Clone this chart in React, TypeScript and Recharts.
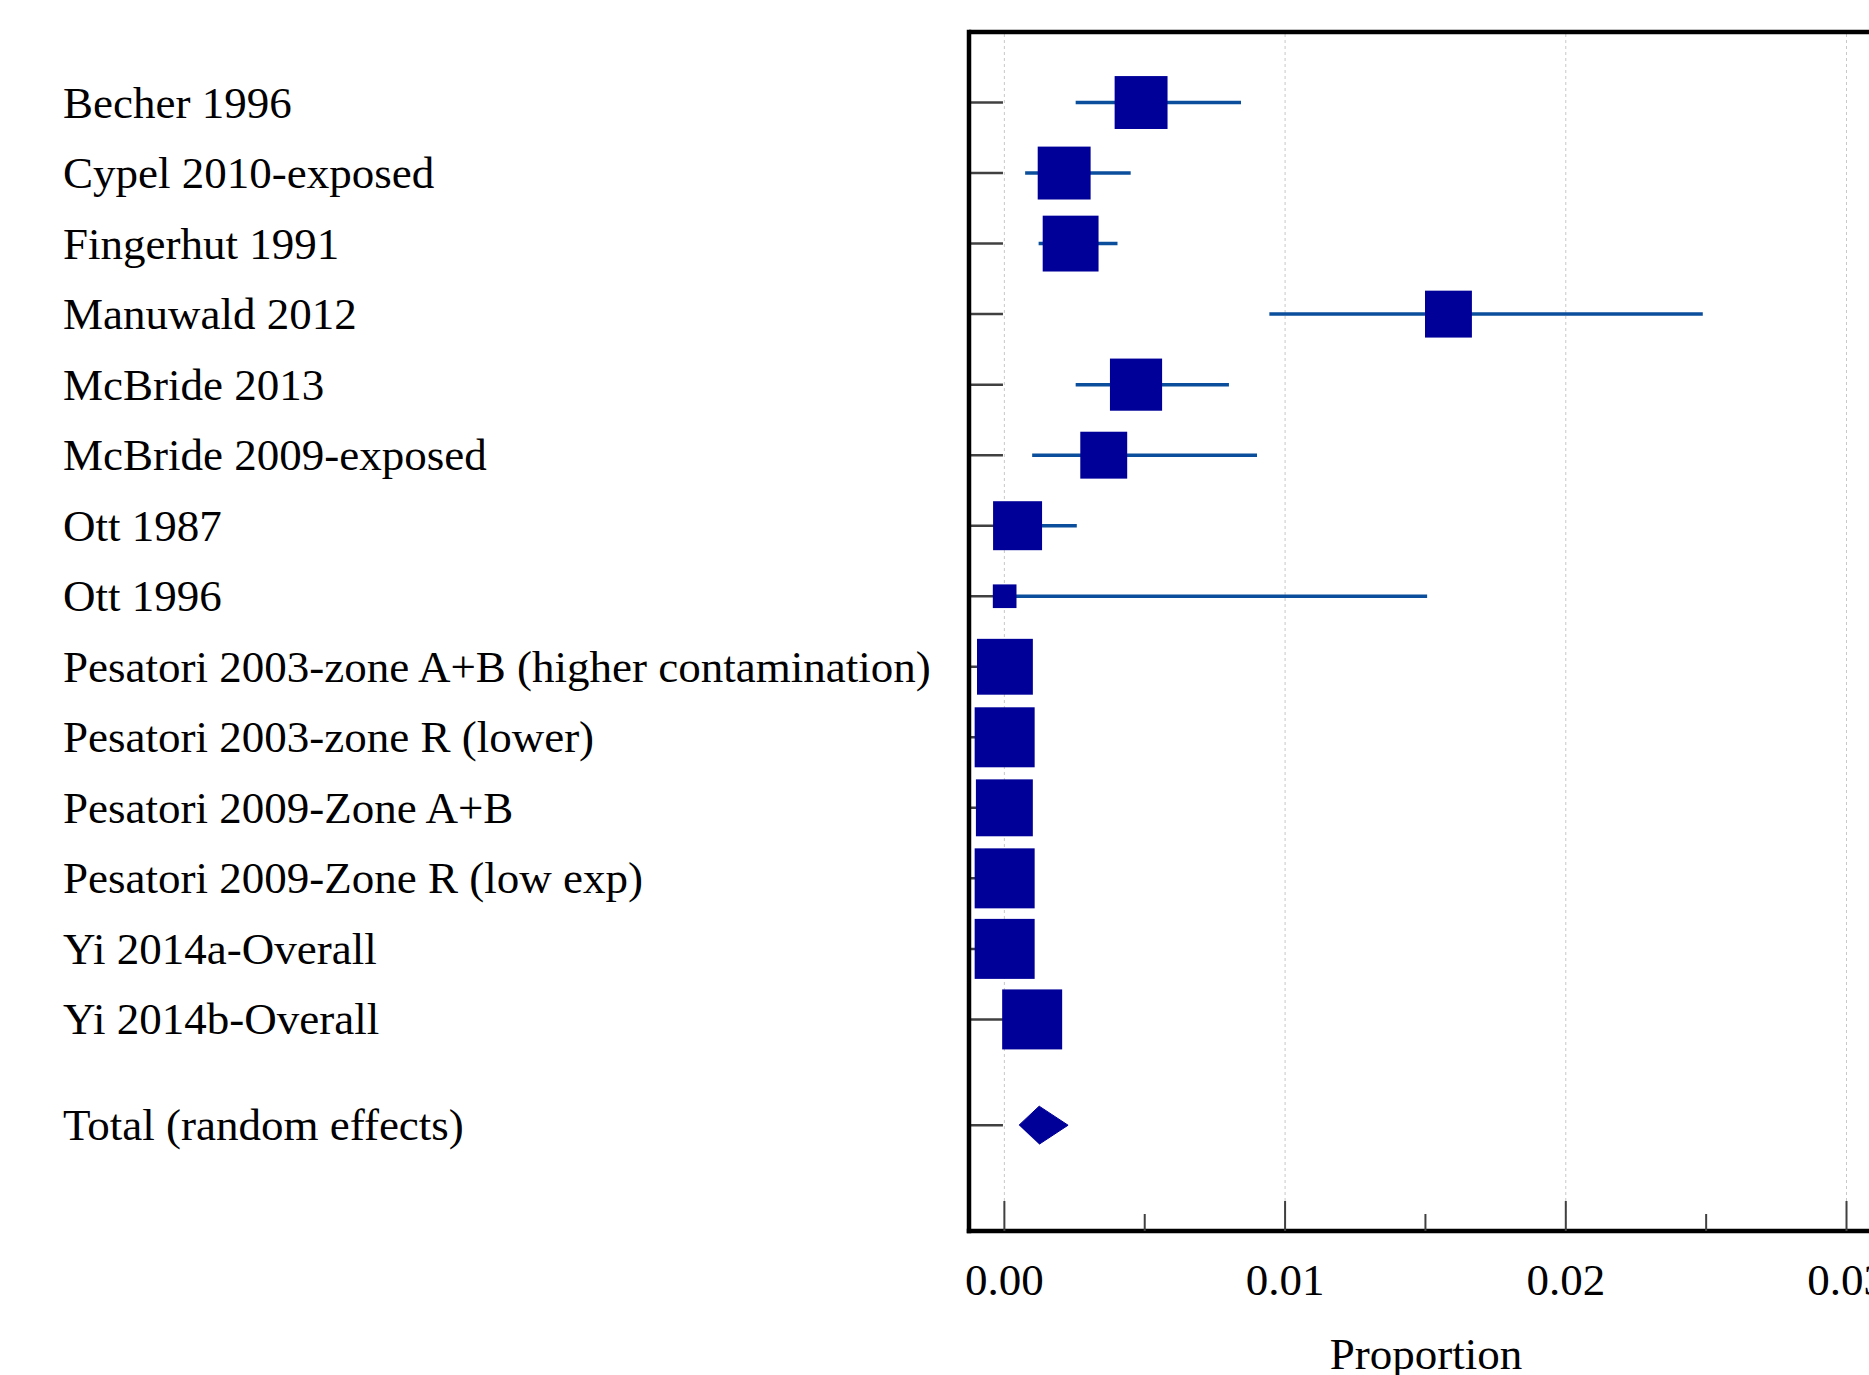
import React from 'react';
import {
  ErrorBar,
  ReferenceLine,
  Scatter,
  ScatterChart,
  XAxis,
  YAxis,
} from 'recharts';

// studies, top to bottom
const studies = [
  'Becher 1996',
  'Cypel 2010-exposed',
  'Fingerhut 1991',
  'Manuwald 2012',
  'McBride 2013',
  'McBride 2009-exposed',
  'Ott 1987',
  'Ott 1996',
  'Pesatori 2003-zone A+B (higher contamination)',
  'Pesatori 2003-zone R (lower)',
  'Pesatori 2009-Zone A+B',
  'Pesatori 2009-Zone R (low exp)',
  'Yi 2014a-Overall',
  'Yi 2014b-Overall',
];
const estimates = [
  0.00487, 0.00213, 0.00236, 0.01582, 0.00469, 0.00354, 0.00047, 0.00001,
  0.00002, 0.00001, 0.0, 0.00001, 0.00001, 0.00099,
];
const lower = [
  0.00254, 0.00074, 0.00122, 0.00944, 0.00254, 0.00099, 0.0, 0.0, 0.0, 0.0,
  0.0, 0.0, 0.0, 0.0003,
];
const upper = [
  0.00843, 0.0045, 0.00403, 0.02488, 0.008, 0.009, 0.00258, 0.01506, 0.0001,
  0.0001, 0.0001, 0.0001, 0.0001, 0.0018,
];
// relative weights (%)
const weights = [7.0, 7.0, 7.8, 5.5, 6.8, 5.5, 6.0, 1.4, 7.8, 9.0, 8.1, 9.0, 9.0, 9.0];

const totalLabel = 'Total (random effects)';
const totalEstimate = 0.00124;
const totalLower = 0.00052;
const totalUpper = 0.00227;

const xTicks = [0, 0.005, 0.01, 0.015, 0.02, 0.025, 0.03];
const xGrid = [0, 0.01, 0.02, 0.03];
const xDomain = [-0.00126, 0.0313];
const yDomain = [-1, 16];

const BOX = '#000099';
const CI = '#0b4f9c';
const TICK = '#404040';
const FONT = '"Liberation Serif", "Times New Roman", serif';
const FONT_SIZE = 45;
const BOX_SCALE = 20;
const DIAMOND_HALF = 0.27;
const LABEL_X = 63;
const Y_TICK_END = -0.00005;

const totalRow = studies.length + 0.5;
const yTicks = [...studies.map((_, i) => i), totalRow];

const studyData = studies.map((name, i) => ({
  name,
  x: estimates[i],
  y: i,
  err: [estimates[i] - lower[i], upper[i] - estimates[i]],
  weight: weights[i],
}));

const diamondData = [
  { x: totalLower, y: totalRow },
  { x: totalEstimate, y: totalRow - DIAMOND_HALF },
  { x: totalUpper, y: totalRow },
  { x: totalEstimate, y: totalRow + DIAMOND_HALF },
];

const labelFor = (v: number) =>
  v === totalRow ? totalLabel : studies[Math.round(v)] ?? '';

const Square = (props: any) => {
  const { cx, cy, payload } = props;
  const s = BOX_SCALE * Math.sqrt(payload.weight);
  return <rect x={cx - s / 2} y={cy - s / 2} width={s} height={s} fill={BOX} />;
};

const YTick = (props: any) => {
  const { y, payload } = props;
  return (
    <text
      x={LABEL_X}
      y={y + 15}
      fill="#000"
      fontFamily={FONT}
      fontSize={FONT_SIZE}
      textAnchor="start"
    >
      {labelFor(payload.value)}
    </text>
  );
};

const XTick = (props: any) => {
  const { x, y, payload } = props;
  const v = payload.value;
  const major = Math.abs(v * 100 - Math.round(v * 100)) < 1e-6;
  return (
    <g>
      <line x1={x} x2={x} y1={y} y2={y - (major ? 30 : 17)} stroke={TICK} strokeWidth={2} />
      {major && (
        <text
          x={x}
          y={y + 64}
          fill="#000"
          fontFamily={FONT}
          fontSize={FONT_SIZE}
          textAnchor="middle"
        >
          {v.toFixed(2)}
        </text>
      )}
    </g>
  );
};

const frame = { stroke: '#000', strokeWidth: 4.5, strokeLinecap: 'square' as const };

export default function App() {
  return (
    <div
      style={{
        position: 'absolute',
        left: 0,
        top: 0,
        width: 1869,
        height: 1375,
        overflow: 'hidden',
        background: '#fff',
      }}
    >
      <ScatterChart
        width={1960}
        height={1375}
        margin={{ top: 32, right: 77, bottom: 4, left: 0 }}
      >
        {xGrid.map((v) => (
          <ReferenceLine key={v} x={v} stroke="#c8c8c8" strokeDasharray="3 3" strokeWidth={1} />
        ))}
        {/* inward row ticks on the left frame */}
        {yTicks.map((t) => (
          <ReferenceLine
            key={`yt-${t}`}
            segment={[
              { x: xDomain[0], y: t },
              { x: Y_TICK_END, y: t },
            ]}
            stroke={TICK}
            strokeWidth={2.5}
            ifOverflow="visible"
          />
        ))}
        {/* top frame line */}
        <ReferenceLine
          y={yDomain[0]}
          stroke="#000"
          strokeWidth={4.5}
          ifOverflow="visible"
        />
        <XAxis
          dataKey="x"
          type="number"
          domain={xDomain}
          allowDataOverflow
          ticks={xTicks}
          interval={0}
          tickSize={0}
          tickMargin={0}
          tickLine={false}
          tick={<XTick />}
          height={140}
          axisLine={frame}
          label={{
            value: 'Proportion',
            position: 'insideBottom',
            offset: 2,
            fill: '#000',
            fontFamily: FONT,
            fontSize: FONT_SIZE,
          }}
        />
        <YAxis
          dataKey="y"
          type="number"
          domain={yDomain}
          reversed
          allowDataOverflow
          ticks={yTicks}
          interval={0}
          tickSize={0}
          tickMargin={0}
          tickLine={false}
          tick={<YTick />}
          width={969}
          axisLine={frame}
        />
        <Scatter data={studyData} shape={<Square />} isAnimationActive={false}>
          <ErrorBar
            dataKey="err"
            direction="x"
            width={0}
            stroke={CI}
            strokeWidth={3.5}
            isAnimationActive={false}
          />
        </Scatter>
        <Scatter
          data={diamondData}
          line={{ stroke: BOX, strokeWidth: 1, fill: BOX }}
          lineType="joint"
          shape={() => <g />}
          isAnimationActive={false}
        />
      </ScatterChart>
    </div>
  );
}
